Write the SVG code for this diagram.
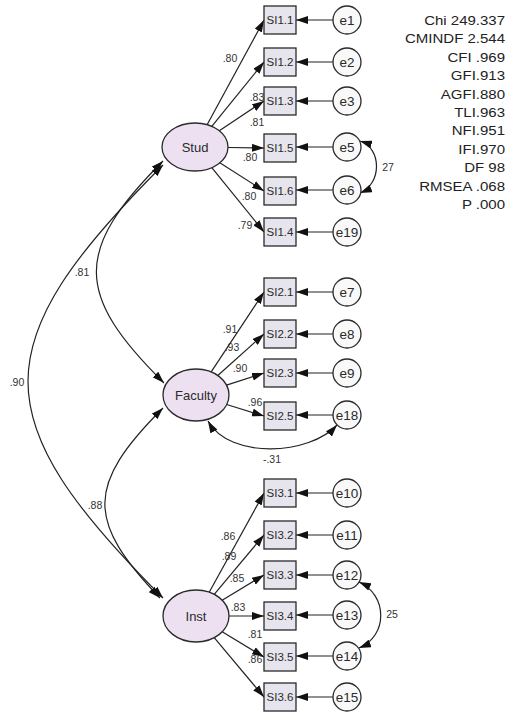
<svg xmlns="http://www.w3.org/2000/svg" width="507" height="712" viewBox="0 0 507 712">
  <style>
    .lat { fill: #ede1f1; stroke: #2a2a2a; stroke-width: 1.3; }
    .obs { fill: #e6e4ec; stroke: #2a2a2a; stroke-width: 1.3; }
    .err { fill: #f9f9f9; stroke: #2a2a2a; stroke-width: 1.3; }
    .lbl { font-family: "Liberation Sans", Arial, sans-serif; fill: #2a2a2a; text-anchor: middle; }
    .lt { font-size: 13px; }
    .ot { font-size: 11.5px; }
    .et { font-size: 13.5px; }
    .coef { font-family: "Liberation Sans", Arial, sans-serif; font-size: 10.5px; fill: #333; text-anchor: middle; }
    .stat { font-family: "Liberation Sans", Arial, sans-serif; font-size: 12px; fill: #222; text-anchor: end; }
    .ln { stroke: #222; stroke-width: 1.2; fill: none; marker-end: url(#ah); }
    .cv { stroke: #222; stroke-width: 1.2; fill: none; marker-start: url(#ah); marker-end: url(#ah); }
  </style>
  <defs>
    <marker id="ah" markerUnits="userSpaceOnUse" markerWidth="12" markerHeight="8" refX="12" refY="4" orient="auto-start-reverse">
      <path d="M0,0 L12,4 L0,8 z" fill="#111"/>
    </marker>
  </defs>
  <rect width="507" height="712" fill="#ffffff"/>

  <!-- connectors -->
  <g id="connectors">
    <!-- Stud loadings -->
    <line class="ln" x1="207.1" y1="124.7" x2="264" y2="20"/>
    <line class="ln" x1="211.8" y1="126.3" x2="264" y2="62"/>
    <line class="ln" x1="219.3" y1="130.8" x2="264" y2="101"/>
    <line class="ln" x1="228" y1="147.5" x2="264" y2="148"/>
    <line class="ln" x1="219.8" y1="162.8" x2="264" y2="191"/>
    <line class="ln" x1="211.8" y1="167.7" x2="264" y2="232"/>
    <!-- Faculty loadings -->
    <line class="ln" x1="211.2" y1="371.9" x2="264" y2="292"/>
    <line class="ln" x1="217.8" y1="375.5" x2="264" y2="334"/>
    <line class="ln" x1="226.5" y1="385.1" x2="264" y2="373"/>
    <line class="ln" x1="226.7" y1="404.5" x2="264" y2="416"/>
    <!-- Inst loadings -->
    <line class="ln" x1="209.2" y1="592.2" x2="264" y2="493"/>
    <line class="ln" x1="214.2" y1="594.3" x2="264" y2="535"/>
    <line class="ln" x1="222.2" y1="600.2" x2="264" y2="575"/>
    <line class="ln" x1="229" y1="616" x2="264" y2="616"/>
    <line class="ln" x1="222.2" y1="631.8" x2="264" y2="657"/>
    <line class="ln" x1="214.2" y1="637.7" x2="264" y2="697"/>
    <!-- error terms -->
    <line class="ln" x1="333" y1="20" x2="296" y2="20"/>
    <line class="ln" x1="333" y1="62" x2="296" y2="62"/>
    <line class="ln" x1="333" y1="101" x2="296" y2="101"/>
    <line class="ln" x1="333" y1="147" x2="296" y2="147"/>
    <line class="ln" x1="333" y1="190" x2="296" y2="190"/>
    <line class="ln" x1="333" y1="232" x2="296" y2="232"/>
    <line class="ln" x1="333" y1="292" x2="296" y2="292"/>
    <line class="ln" x1="333" y1="334" x2="296" y2="334"/>
    <line class="ln" x1="333" y1="373" x2="296" y2="373"/>
    <line class="ln" x1="333" y1="415" x2="296" y2="415"/>
    <line class="ln" x1="333" y1="493" x2="296" y2="493"/>
    <line class="ln" x1="333" y1="535" x2="296" y2="535"/>
    <line class="ln" x1="333" y1="575" x2="296" y2="575"/>
    <line class="ln" x1="333" y1="615" x2="296" y2="615"/>
    <line class="ln" x1="333" y1="656" x2="296" y2="656"/>
    <line class="ln" x1="333" y1="697" x2="296" y2="697"/>
    <!-- covariances -->
    <path class="cv" d="M163,161 C74,250 74,294 164,383"/>
    <path class="cv" d="M163,165 C-17,345 -17,418 163,598"/>
    <path class="cv" d="M163,408 C86,485 86,521 160,598"/>
    <path class="cv" d="M208,421 C230,460 310,455 337,425"/>
    <path class="cv" d="M360,141 C382,148 382,184 360,193"/>
    <path class="cv" d="M359,582 C388,595 388,636 359,648"/>
  </g>

  <!-- latent factors -->
  <g id="Stud"><ellipse class="lat" cx="195" cy="147" rx="33" ry="24"/><text class="lbl lt" x="195" y="151.5">Stud</text></g>
  <g id="Faculty"><ellipse class="lat" cx="196" cy="395" rx="33" ry="26"/><text class="lbl lt" x="196" y="399.5">Faculty</text></g>
  <g id="Inst"><ellipse class="lat" cx="196" cy="616" rx="33" ry="26"/><text class="lbl lt" x="196" y="620.5">Inst</text></g>

  <!-- observed indicators -->
  <g id="SI1.1"><rect class="obs" x="264" y="6" width="32" height="28"/><text class="lbl ot" x="280" y="24">SI1.1</text></g>
  <g id="SI1.2"><rect class="obs" x="264" y="48" width="32" height="28"/><text class="lbl ot" x="280" y="66">SI1.2</text></g>
  <g id="SI1.3"><rect class="obs" x="264" y="87" width="32" height="28"/><text class="lbl ot" x="280" y="105">SI1.3</text></g>
  <g id="SI1.5"><rect class="obs" x="264" y="134" width="32" height="28"/><text class="lbl ot" x="280" y="152">SI1.5</text></g>
  <g id="SI1.6"><rect class="obs" x="264" y="177" width="32" height="28"/><text class="lbl ot" x="280" y="195">SI1.6</text></g>
  <g id="SI1.4"><rect class="obs" x="264" y="218" width="32" height="28"/><text class="lbl ot" x="280" y="236">SI1.4</text></g>
  <g id="SI2.1"><rect class="obs" x="264" y="278" width="32" height="28"/><text class="lbl ot" x="280" y="296">SI2.1</text></g>
  <g id="SI2.2"><rect class="obs" x="264" y="320" width="32" height="28"/><text class="lbl ot" x="280" y="338">SI2.2</text></g>
  <g id="SI2.3"><rect class="obs" x="264" y="359" width="32" height="28"/><text class="lbl ot" x="280" y="377">SI2.3</text></g>
  <g id="SI2.5"><rect class="obs" x="264" y="402" width="32" height="28"/><text class="lbl ot" x="280" y="420">SI2.5</text></g>
  <g id="SI3.1"><rect class="obs" x="264" y="479" width="32" height="28"/><text class="lbl ot" x="280" y="497">SI3.1</text></g>
  <g id="SI3.2"><rect class="obs" x="264" y="521" width="32" height="28"/><text class="lbl ot" x="280" y="539">SI3.2</text></g>
  <g id="SI3.3"><rect class="obs" x="264" y="561" width="32" height="28"/><text class="lbl ot" x="280" y="579">SI3.3</text></g>
  <g id="SI3.4"><rect class="obs" x="264" y="602" width="32" height="28"/><text class="lbl ot" x="280" y="620">SI3.4</text></g>
  <g id="SI3.5"><rect class="obs" x="264" y="643" width="32" height="28"/><text class="lbl ot" x="280" y="661">SI3.5</text></g>
  <g id="SI3.6"><rect class="obs" x="264" y="683" width="32" height="28"/><text class="lbl ot" x="280" y="701">SI3.6</text></g>

  <!-- error terms -->
  <g id="e1"><circle class="err" cx="347" cy="20" r="14"/><text class="lbl et" x="347" y="24.5">e1</text></g>
  <g id="e2"><circle class="err" cx="347" cy="62" r="14"/><text class="lbl et" x="347" y="66.5">e2</text></g>
  <g id="e3"><circle class="err" cx="347" cy="101" r="14"/><text class="lbl et" x="347" y="105.5">e3</text></g>
  <g id="e5"><circle class="err" cx="347" cy="147" r="14"/><text class="lbl et" x="347" y="151.5">e5</text></g>
  <g id="e6"><circle class="err" cx="347" cy="190" r="14"/><text class="lbl et" x="347" y="194.5">e6</text></g>
  <g id="e19"><circle class="err" cx="347" cy="232" r="14"/><text class="lbl et" x="347" y="236.5">e19</text></g>
  <g id="e7"><circle class="err" cx="347" cy="292" r="14"/><text class="lbl et" x="347" y="296.5">e7</text></g>
  <g id="e8"><circle class="err" cx="347" cy="334" r="14"/><text class="lbl et" x="347" y="338.5">e8</text></g>
  <g id="e9"><circle class="err" cx="347" cy="373" r="14"/><text class="lbl et" x="347" y="377.5">e9</text></g>
  <g id="e18"><circle class="err" cx="347" cy="415" r="14"/><text class="lbl et" x="347" y="419.5">e18</text></g>
  <g id="e10"><circle class="err" cx="347" cy="493" r="14"/><text class="lbl et" x="347" y="497.5">e10</text></g>
  <g id="e11"><circle class="err" cx="347" cy="535" r="14"/><text class="lbl et" x="347" y="539.5">e11</text></g>
  <g id="e12"><circle class="err" cx="347" cy="575" r="14"/><text class="lbl et" x="347" y="579.5">e12</text></g>
  <g id="e13"><circle class="err" cx="347" cy="615" r="14"/><text class="lbl et" x="347" y="619.5">e13</text></g>
  <g id="e14"><circle class="err" cx="347" cy="656" r="14"/><text class="lbl et" x="347" y="660.5">e14</text></g>
  <g id="e15"><circle class="err" cx="347" cy="697" r="14"/><text class="lbl et" x="347" y="701.5">e15</text></g>

  <!-- coefficients -->
  <g id="coefficients">
    <text class="coef" x="230" y="61.5">.80</text>
    <text class="coef" x="257" y="100.5">.83</text>
    <text class="coef" x="257" y="125.5">.81</text>
    <text class="coef" x="250" y="160.5">.80</text>
    <text class="coef" x="249" y="200">.80</text>
    <text class="coef" x="245" y="228.5">.79</text>
    <text class="coef" x="230" y="332.5">.91</text>
    <text class="coef" x="232" y="350.5">.93</text>
    <text class="coef" x="240" y="371.5">.90</text>
    <text class="coef" x="255" y="405.5">.96</text>
    <text class="coef" x="228" y="539.5">.86</text>
    <text class="coef" x="229" y="559.5">.89</text>
    <text class="coef" x="237" y="581.5">.85</text>
    <text class="coef" x="238" y="610.5">.83</text>
    <text class="coef" x="255" y="637.5">.81</text>
    <text class="coef" x="255" y="662.5">.86</text>
    <text class="coef" x="82" y="275.5">.81</text>
    <text class="coef" x="17" y="385.5">.90</text>
    <text class="coef" x="95" y="508.5">.88</text>
    <text class="coef" x="272" y="462.5">-.31</text>
    <text class="coef" x="388" y="170.5">27</text>
    <text class="coef" x="392" y="617.5">25</text>
  </g>

  <!-- fit indices -->
  <g id="fit" transform="translate(505,0) scale(1.25,1)">
    <text class="stat" x="0" y="25">Chi 249.337</text>
    <text class="stat" x="0" y="43.4">CMINDF 2.544</text>
    <text class="stat" x="0" y="61.8">CFI .969</text>
    <text class="stat" x="0" y="80.2">GFI.913</text>
    <text class="stat" x="0" y="98.6">AGFI.880</text>
    <text class="stat" x="0" y="117">TLI.963</text>
    <text class="stat" x="0" y="135.4">NFI.951</text>
    <text class="stat" x="0" y="153.8">IFI.970</text>
    <text class="stat" x="0" y="172.2">DF 98</text>
    <text class="stat" x="0" y="190.6">RMSEA .068</text>
    <text class="stat" x="0" y="209">P .000</text>
  </g>
</svg>
